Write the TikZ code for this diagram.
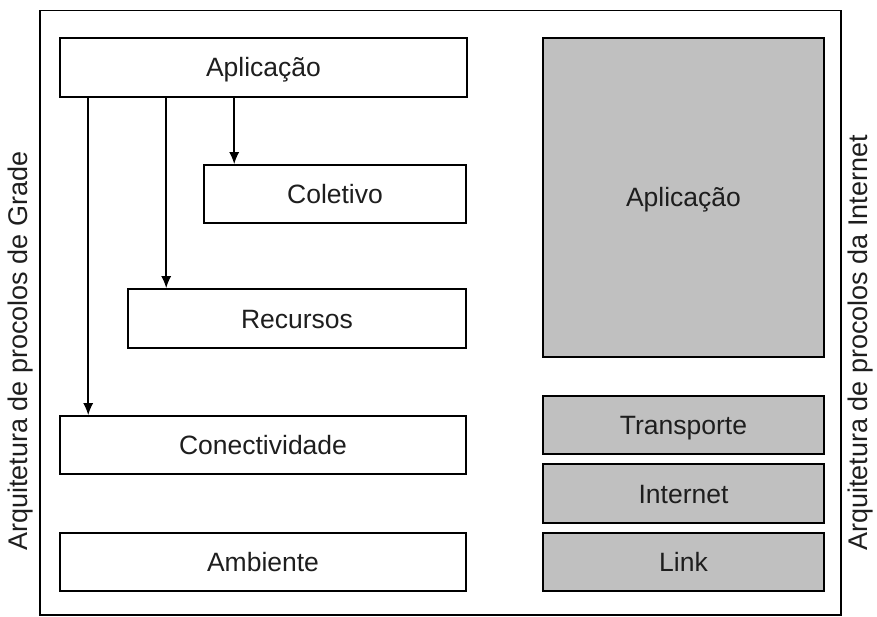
\documentclass[tikz,border=0pt]{standalone}
\usepackage{fontspec}
\setmainfont{Liberation Sans}
\usetikzlibrary{arrows.meta}
\definecolor{boxgray}{RGB}{192,192,192}
\definecolor{txt}{RGB}{30,30,30}
\tikzset{
  layer/.style={draw=black, line width=1.6pt, rectangle, inner sep=0pt, text=txt,
    font=\fontsize{26.5}{30}\selectfont, text height=19pt, text depth=0pt},
  wbox/.style={layer, fill=white},
  gbox/.style={layer, fill=boxgray},
  arr/.style={draw=black, line width=1.5pt, -{Latex[length=12pt,width=10pt]}},
  sidelabel/.style={rotate=90, text=txt, font=\fontsize{27}{30}\selectfont, inner sep=0pt},
}
\begin{document}
\begin{tikzpicture}[x=1pt,y=-1pt]
\useasboundingbox (0,0) rectangle (877,617);
\draw[line width=1.6pt] (40,10.7) rectangle (841,615);
% left stack
\node[wbox, minimum width=407pt, minimum height=59pt] (appL) at (263.5,67.5) {Aplicação};
\node[wbox, minimum width=262pt, minimum height=58pt] (col) at (335,194) {Coletivo};
\node[wbox, minimum width=338pt, minimum height=59pt] (rec) at (297,318.5) {Recursos};
\node[wbox, minimum width=406pt, minimum height=58pt] (con) at (263,445) {Conectividade};
\node[wbox, minimum width=406pt, minimum height=58pt] (amb) at (263,562) {Ambiente};
% right stack
\node[gbox, minimum width=281pt, minimum height=319pt] (appR) at (683.5,197.5) {Aplicação};
\node[gbox, minimum width=281pt, minimum height=58pt] (tra) at (683.5,425) {Transporte};
\node[gbox, minimum width=281pt, minimum height=59pt] (int) at (683.5,493.5) {Internet};
\node[gbox, minimum width=281pt, minimum height=58pt] (lnk) at (683.5,562) {Link};
% arrows
\draw[arr] ([xshift=29pt]appL.south west) -- ([xshift=29pt]con.north west);
\draw[arr] ([xshift=107pt]appL.south west) -- ([xshift=39pt]rec.north west);
\draw[arr] ([xshift=175pt]appL.south west) -- ([xshift=31pt]col.north west);
% side labels
\node[sidelabel] (lblL) at (21,351) {Arquitetura de procolos de Grade};
\node[sidelabel] (lblR) at (861,343) {Arquitetura de procolos da Internet};
\end{tikzpicture}
\end{document}
